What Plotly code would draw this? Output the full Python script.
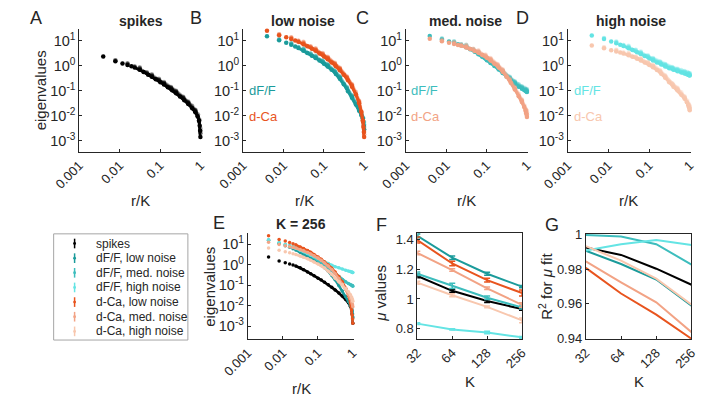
import plotly.graph_objects as go

W, H = 708, 404

# ---------------- data ----------------
RANKS_256 = [1, 2, 3, 4, 5, 6, 8, 10, 13, 16, 20, 26, 32, 40, 51, 64, 80, 102, 128, 160, 192, 218, 236, 246, 252, 256]
RANKS_128 = [1, 2, 3, 4, 6, 8, 12, 16, 24, 32, 48, 64, 96, 120, 128]
RANKS_64 = [1, 2, 3, 4, 6, 8, 12, 16, 24, 32, 48, 60, 64]
RANKS_32 = [1, 2, 3, 4, 6, 8, 12, 16, 20, 24, 28, 32]

# log10(eigenvalue)
spikes_256 = [0.37, 0.18, 0.09, 0.03, -0.02, -0.07, -0.16, -0.25, -0.36, -0.44, -0.54, -0.66, -0.75, -0.86, -0.98, -1.10, -1.23, -1.38, -1.53, -1.70, -1.86, -2.02, -2.20, -2.40, -2.60, -2.85]
spikes_128 = [0.22, 0.07, -0.03, -0.12, -0.29, -0.40, -0.58, -0.71, -0.91, -1.06, -1.30, -1.49, -1.82, -2.2, -2.7]
spikes_64 = [0.10, -0.09, -0.26, -0.37, -0.55, -0.68, -0.88, -1.03, -1.27, -1.46, -1.78, -2.15, -2.6]
spikes_32 = [-0.06, -0.34, -0.52, -0.65, -0.85, -1.00, -1.24, -1.43, -1.60, -1.76, -1.95, -2.5]

dff_low_256 = [1.18, 1.02, 0.92, 0.84, 0.77, 0.71, 0.60, 0.51, 0.40, 0.31, 0.21, 0.08, -0.03, -0.16, -0.33, -0.52, -0.74, -1.02, -1.28, -1.55, -1.80, -1.98, -2.12, -2.25, -2.40, -2.55]
dff_low_128 = [1.06, 0.88, 0.75, 0.64, 0.47, 0.35, 0.16, 0.01, -0.25, -0.48, -0.91, -1.24, -1.76, -2.1, -2.45]
dff_low_64 = [0.91, 0.67, 0.50, 0.38, 0.19, 0.04, -0.22, -0.45, -0.88, -1.21, -1.73, -2.07, -2.35]
dff_low_32 = [0.70, 0.41, 0.22, 0.07, -0.19, -0.42, -0.85, -1.18, -1.45, -1.70, -1.93, -2.25]

dff_med_256 = [1.19, 1.05, 0.97, 0.91, 0.86, 0.82, 0.74, 0.66, 0.56, 0.46, 0.36, 0.22, 0.11, -0.01, -0.15, -0.29, -0.43, -0.58, -0.72, -0.84, -0.92, -0.97, -1.00, -1.02, -1.03, -1.05]
dff_med_128 = [1.09, 0.95, 0.86, 0.78, 0.63, 0.50, 0.30, 0.15, -0.08, -0.25, -0.50, -0.68, -0.88, -0.97, -1.0]
dff_med_64 = [0.98, 0.81, 0.66, 0.53, 0.33, 0.18, -0.05, -0.22, -0.47, -0.65, -0.85, -0.94, -0.97]
dff_med_32 = [0.84, 0.56, 0.36, 0.21, -0.02, -0.19, -0.44, -0.62, -0.74, -0.82, -0.88, -0.93]

dff_high_256 = [1.21, 1.07, 0.97, 0.90, 0.84, 0.79, 0.70, 0.63, 0.54, 0.47, 0.39, 0.29, 0.21, 0.13, 0.05, -0.03, -0.10, -0.16, -0.22, -0.27, -0.31, -0.34, -0.36, -0.37, -0.38, -0.39]
dff_high_128 = [1.11, 0.94, 0.83, 0.74, 0.61, 0.51, 0.36, 0.25, 0.11, 0.01, -0.10, -0.18, -0.27, -0.32, -0.35]
dff_high_64 = [0.97, 0.77, 0.64, 0.54, 0.39, 0.28, 0.14, 0.04, -0.08, -0.15, -0.24, -0.29, -0.32]
dff_high_32 = [0.80, 0.57, 0.42, 0.31, 0.17, 0.07, -0.05, -0.12, -0.17, -0.21, -0.25, -0.29]

dca_low_256 = [1.40, 1.22, 1.14, 1.07, 1.01, 0.96, 0.86, 0.78, 0.68, 0.60, 0.49, 0.37, 0.26, 0.13, -0.02, -0.18, -0.36, -0.58, -0.84, -1.15, -1.50, -1.85, -2.20, -2.45, -2.65, -2.85]
dca_low_128 = [1.26, 1.11, 1.00, 0.90, 0.75, 0.64, 0.45, 0.30, 0.06, -0.14, -0.49, -0.80, -1.46, -2.2, -2.75]
dca_low_64 = [1.14, 0.93, 0.78, 0.67, 0.48, 0.33, 0.09, -0.11, -0.46, -0.77, -1.43, -2.2, -2.65]
dca_low_32 = [0.96, 0.70, 0.51, 0.36, 0.12, -0.08, -0.43, -0.74, -1.05, -1.40, -1.85, -2.55]

dca_med_256 = [1.08, 0.98, 0.92, 0.87, 0.83, 0.80, 0.73, 0.67, 0.59, 0.52, 0.43, 0.32, 0.21, 0.08, -0.07, -0.24, -0.44, -0.68, -0.95, -1.22, -1.45, -1.65, -1.80, -1.90, -1.97, -2.05]
dca_med_128 = [1.02, 0.91, 0.84, 0.77, 0.65, 0.56, 0.39, 0.25, 0.01, -0.20, -0.58, -0.91, -1.41, -1.78, -1.95]
dca_med_64 = [0.94, 0.80, 0.68, 0.59, 0.42, 0.28, 0.04, -0.17, -0.55, -0.88, -1.38, -1.74, -1.87]
dca_med_32 = [0.83, 0.62, 0.45, 0.31, 0.07, -0.14, -0.52, -0.85, -1.12, -1.35, -1.6, -1.8]

dca_high_256 = [0.81, 0.70, 0.62, 0.57, 0.53, 0.49, 0.42, 0.36, 0.28, 0.21, 0.13, 0.03, -0.06, -0.17, -0.32, -0.48, -0.66, -0.84, -0.98, -1.16, -1.32, -1.46, -1.58, -1.66, -1.72, -1.78]
dca_high_128 = [0.74, 0.61, 0.53, 0.46, 0.34, 0.25, 0.10, -0.02, -0.24, -0.44, -0.76, -0.94, -1.28, -1.56, -1.7]
dca_high_64 = [0.64, 0.49, 0.37, 0.28, 0.13, 0.01, -0.21, -0.41, -0.73, -0.91, -1.25, -1.52, -1.64]
dca_high_32 = [0.52, 0.31, 0.16, 0.04, -0.18, -0.38, -0.70, -0.88, -1.06, -1.22, -1.40, -1.6]

# panel F: mu values and error bars
K_AXIS = [32, 64, 128, 256]
mu_spikes = [1.155, 1.055, 0.986, 0.932]
mu_dff_low = [1.425, 1.278, 1.170, 1.083]
mu_dff_med = [1.170, 1.088, 1.008, 0.943]
mu_dff_high = [0.834, 0.795, 0.774, 0.742]
mu_dca_low = [1.397, 1.239, 1.127, 1.040]
mu_dca_med = [1.310, 1.195, 1.072, 0.960]
mu_dca_high = [1.110, 1.025, 0.947, 0.856]
err_spikes = [0.012, 0.010, 0.010, 0.008]
err_dff_low = [0.012, 0.012, 0.010, 0.008]
err_dff_med = [0.012, 0.018, 0.012, 0.010]
err_dff_high = [0.006, 0.004, 0.008, 0.006]
err_dca_low = [0.020, 0.015, 0.012, 0.020]
err_dca_med = [0.012, 0.008, 0.008, 0.015]
err_dca_high = [0.010, 0.010, 0.006, 0.016]

# panel G: R^2 of mu fit
r2_spikes = [0.9926, 0.9883, 0.9803, 0.9710]
r2_dff_low = [0.9907, 0.9830, 0.9740, 0.9588]
r2_dff_med = [0.9998, 0.9990, 0.9945, 0.9827]
r2_dff_high = [0.9908, 0.9945, 0.9970, 0.9940]
r2_dca_low = [0.9808, 0.9659, 0.9537, 0.9397]
r2_dca_med = [0.9846, 0.9724, 0.9608, 0.9435]
r2_dca_high = [0.9934, 0.9850, 0.9745, 0.9595]

CONDITIONS = ["spikes", "dF/F, low noise", "dF/F, med. noise", "dF/F, high noise",
              "d-Ca, low noise", "d-Ca, med. noise", "d-Ca, high noise"]
COLORS = ["#000000", "#1b9b9b", "#3dbdbd", "#64e4e4", "#e8541e", "#f2a385", "#f8c7ae"]

RANKS = {256: RANKS_256, 128: RANKS_128, 64: RANKS_64, 32: RANKS_32}
SPECTRA = [
    {256: spikes_256, 128: spikes_128, 64: spikes_64, 32: spikes_32},
    {256: dff_low_256, 128: dff_low_128, 64: dff_low_64, 32: dff_low_32},
    {256: dff_med_256, 128: dff_med_128, 64: dff_med_64, 32: dff_med_32},
    {256: dff_high_256, 128: dff_high_128, 64: dff_high_64, 32: dff_high_32},
    {256: dca_low_256, 128: dca_low_128, 64: dca_low_64, 32: dca_low_32},
    {256: dca_med_256, 128: dca_med_128, 64: dca_med_64, 32: dca_med_32},
    {256: dca_high_256, 128: dca_high_128, 64: dca_high_64, 32: dca_high_32},
]
MU = [mu_spikes, mu_dff_low, mu_dff_med, mu_dff_high, mu_dca_low, mu_dca_med, mu_dca_high]
MU_ERR = [err_spikes, err_dff_low, err_dff_med, err_dff_high, err_dca_low, err_dca_med, err_dca_high]
R2 = [r2_spikes, r2_dff_low, r2_dff_med, r2_dff_high, r2_dca_low, r2_dca_med, r2_dca_high]

# ---------------- layout helpers ----------------
FONT = "Liberation Sans, Arial, Helvetica, sans-serif"
AX = "#262626"


def fx(x):
    return x / W


def fy(y):
    return 1 - y / H


def rgba(hexc, a):
    h = hexc.lstrip("#")
    r, g, b = int(h[0:2], 16), int(h[2:4], 16), int(h[4:6], 16)
    return f"rgba({r},{g},{b},{a})"


# panel boxes in pixels: (left, right, top, bottom)
BOX = {
    1: (55, 183, 23, 150),
    2: (227, 355, 23, 150),
    3: (398, 526, 23, 150),
    4: (568, 697, 23, 150),
    5: (232, 343, 234, 344),
    6: (410, 520, 234, 344),
    7: (587, 698, 235, 344),
}

fig = go.Figure()
layout = dict(
    width=W, height=H, margin=dict(l=0, r=0, t=0, b=0),
    paper_bgcolor="white", plot_bgcolor="white", showlegend=False,
    font=dict(family=FONT, color=AX, size=13),
)

EIG_TICKV = [1e-3, 1e-2, 1e-1, 1, 10]
EIG_TICKT = ["10<sup>-3</sup>", "10<sup>-2</sup>", "10<sup>-1</sup>", "10<sup>0</sup>", "10<sup>1</sup>"]
RK_TICKV = [0.001, 0.01, 0.1, 1]
RK_TICKT = ["0.001", "0.01", "0.1", "1"]

for i, (l, r, t, b) in BOX.items():
    xs = "xaxis" if i == 1 else f"xaxis{i}"
    ys = "yaxis" if i == 1 else f"yaxis{i}"
    anchor_x = "y" if i == 1 else f"y{i}"
    anchor_y = "x" if i == 1 else f"x{i}"
    common = dict(showgrid=False, zeroline=False, showline=True, linecolor=AX, linewidth=1,
                  ticks="inside", ticklen=3, tickcolor=AX)
    tf13 = dict(size=13, color=AX, family=FONT)
    tf14 = dict(size=14.5, color=AX, family=FONT)
    mirror = i in (6, 7)
    if i <= 5:
        xr = [-3.0, 0.02]
        yr = [-3.44, 1.46] if i <= 4 else [-3.62, 1.54]
        layout[xs] = dict(domain=[fx(l), fx(r)], anchor=anchor_x, type="log", range=xr,
                          tickvals=RK_TICKV, ticktext=RK_TICKT, tickangle=-45, tickfont=tf13, **common)
        layout[ys] = dict(domain=[fy(b), fy(t)], anchor=anchor_y, type="log", range=yr,
                          tickvals=EIG_TICKV, ticktext=EIG_TICKT, tickfont=tf14, **common)
    else:
        layout[xs] = dict(domain=[fx(l), fx(r)], anchor=anchor_x, type="log",
                          range=[1.50515, 2.40824], tickvals=K_AXIS, ticktext=[str(k) for k in K_AXIS],
                          tickangle=-45, mirror=mirror, tickfont=tf13, **common)
        if i == 6:
            layout[ys] = dict(domain=[fy(b), fy(t)], anchor=anchor_y, range=[0.73, 1.445],
                              tickvals=[0.8, 1.0, 1.2, 1.4], ticktext=["0.8", "1", "1.2", "1.4"],
                              mirror=mirror, tickfont=tf13, **common)
        else:
            layout[ys] = dict(domain=[fy(b), fy(t)], anchor=anchor_y, range=[0.9395, 1.0005],
                              tickvals=[0.94, 0.96, 0.98, 1.0], ticktext=["0.94", "0.96", "0.98", "1"],
                              mirror=mirror, tickfont=tf13, **common)


def axref(i):
    return ("x", "y") if i == 1 else (f"x{i}", f"y{i}")


ALPHA = {256: 1.0, 128: 0.55, 64: 0.4, 32: 0.3}


def add_spectrum(panel, cond, K, msize, lw, line_start):
    xa, ya = axref(panel)
    ranks = RANKS[K]
    logv = SPECTRA[cond][K]
    x = [r / K for r in ranks]
    y = [10 ** v for v in logv]
    col = rgba(COLORS[cond], ALPHA[K])
    fig.add_trace(go.Scatter(x=x[line_start:], y=y[line_start:], mode="lines",
                             line=dict(color=col, width=lw), xaxis=xa, yaxis=ya,
                             cliponaxis=False, hoverinfo="skip"))
    fig.add_trace(go.Scatter(x=x, y=y, mode="markers",
                             marker=dict(color=col, size=msize, line=dict(width=0)),
                             xaxis=xa, yaxis=ya, cliponaxis=False, hoverinfo="skip"))


# top panels: A spikes, B low, C med, D high
TOP = {1: [0], 2: [1, 4], 3: [2, 5], 4: [3, 6]}
for panel, conds in TOP.items():
    for c in conds:
        for K in (256, 128, 64, 32):
            add_spectrum(panel, c, K, 4.5, 3, 5 if K == 256 else 3)

# E: K = 256 spectra of all conditions
for c in range(7):
    add_spectrum(5, c, 256, 3.5, 2.6, 5)

# F: mu values
for c in range(7):
    fig.add_trace(go.Scatter(x=K_AXIS, y=MU[c], mode="lines",
                             line=dict(color=COLORS[c], width=2),
                             error_y=dict(type="data", array=MU_ERR[c], color=COLORS[c], thickness=1.5, width=3),
                             xaxis="x6", yaxis="y6", cliponaxis=False, hoverinfo="skip"))

# G: R^2
for c in range(7):
    fig.add_trace(go.Scatter(x=K_AXIS, y=R2[c], mode="lines",
                             line=dict(color=COLORS[c], width=2),
                             xaxis="x7", yaxis="y7", cliponaxis=True, hoverinfo="skip"))

# ---------------- annotations ----------------
ann = []


def text(x, y, s, size=13, color=AX, angle=0, xanchor="center", yanchor="middle"):
    ann.append(dict(x=fx(x), y=fy(y), xref="paper", yref="paper", text=s, showarrow=False,
                    font=dict(size=size, color=color, family=FONT), textangle=angle,
                    xanchor=xanchor, yanchor=yanchor))


# panel letters
for s, x, y in [("A", 9, 11), ("B", 178, 11), ("C", 352, 11), ("D", 521, 11),
                ("E", 202, 224), ("F", 372, 226), ("G", 551, 226)]:
    text(x, y, s, size=18)

# titles
for s, x in [("spikes", 120), ("low noise", 290), ("med. noise", 461), ("high noise", 634)]:
    text(x, 14, f"<b>{s}</b>", size=14)
text(288, 225, "<b>K = 256</b>", size=14)

# axis labels
for cx in (119, 291, 462, 632):
    text(cx, 200, "r/K", size=15)
text(288, 395, "r/K", size=15)
text(465, 388, "K", size=15)
text(643, 388, "K", size=15)
text(14, 86, "eigenvalues", size=15, angle=-90)
text(192, 290, "eigenvalues", size=15, angle=-90)
text(372, 297, "<i>μ</i> values", size=15, angle=-90)
text(545, 289, "R<sup>2</sup> for <i>μ</i> fit", size=15, angle=-90)

# in-panel labels
for x0, cf, cc in [(231, 1, 4), (401, 2, 5), (572, 3, 6)]:
    text(x0, 87, "dF/F", size=13, color=COLORS[cf], xanchor="left")
    text(x0, 113, "d-Ca", size=13, color=COLORS[cc], xanchor="left")

# legend (drawn manually)
shapes = [dict(type="rect", xref="paper", yref="paper", x0=fx(28), x1=fx(169), y0=fy(345), y1=fy(235),
               line=dict(color="#a6a6a6", width=1), fillcolor="white", layer="below")]
for i, name in enumerate(CONDITIONS):
    yc = 245 + i * 15.17
    shapes.append(dict(type="line", xref="paper", yref="paper", x0=fx(50), x1=fx(50),
                       y0=fy(yc + 5), y1=fy(yc - 5), line=dict(color=COLORS[i], width=1.5)))
    shapes.append(dict(type="circle", xref="paper", yref="paper", x0=fx(48.5), x1=fx(51.5),
                       y0=fy(yc + 1.5), y1=fy(yc - 1.5), line=dict(color=COLORS[i], width=0),
                       fillcolor=COLORS[i]))
    text(70, yc, name, size=12, xanchor="left")

layout["annotations"] = ann
layout["shapes"] = shapes
fig.update_layout(**layout)
fig.write_html("out.html")
